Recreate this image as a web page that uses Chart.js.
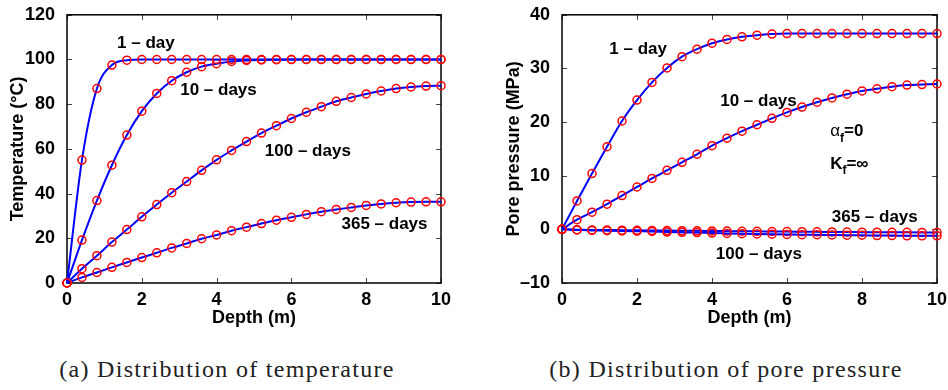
<!DOCTYPE html>
<html>
<head>
<meta charset="utf-8">
<script src="https://cdn.jsdelivr.net/npm/chart.js@4.4.1/dist/chart.umd.min.js"></script>
<style>
  body { margin: 0; background: #fff; width: 948px; height: 390px; position: relative; overflow: hidden; }
  .panel { position: absolute; top: 0; width: 474px; height: 335px; }
  .caption { position: absolute; top: 356px; font-family: "Liberation Serif", serif; font-size: 24px; color: #222;
             letter-spacing: 1.3px; white-space: nowrap; transform: translateX(-50%); }
</style>
</head>
<body>
<div class="panel" style="left:0"><canvas id="tempChart" width="474" height="335"></canvas></div>
<div class="panel" style="left:474px"><canvas id="presChart" width="474" height="335"></canvas></div>
<div class="caption" style="left:227px">(a) Distribution of temperature</div>
<div class="caption" style="left:726px">(b) Distribution of pore pressure</div>
<script>
// depth of the sample points (m)
const depth = [0, 0.4, 0.8, 1.2, 1.6, 2, 2.4, 2.8, 3.2, 3.6, 4, 4.4, 4.8, 5.2, 5.6, 6, 6.4, 6.8, 7.2, 7.6, 8, 8.4, 8.8, 9.2, 9.6, 10];

// temperature (°C)
const temp1day    = [0, 55, 87, 97.5, 99.7, 100, 100, 100, 100, 100, 100, 100, 100, 100, 100, 100, 100, 100, 100, 100, 100, 100, 100, 100, 100, 100];
const temp10days  = [0, 19.2, 36.9, 52.7, 66.2, 76.9, 84.8, 90.5, 94.3, 96.8, 98.1, 99.1, 99.6, 99.8, 99.9, 100, 100, 100, 100, 100, 100, 100, 100, 100, 100, 100];
const temp100days = [0, 6.4, 12.2, 18.3, 23.9, 29.6, 35.1, 40.4, 45.4, 50.4, 55.1, 59.3, 63.3, 67.1, 70.4, 73.6, 76.4, 78.9, 81.3, 83.0, 84.6, 85.9, 87.0, 87.7, 88.1, 88.3];
const temp365days = [0, 2.5, 4.7, 7.0, 9.2, 11.4, 13.5, 15.7, 17.7, 19.8, 21.5, 23.4, 25.0, 26.6, 28.1, 29.4, 30.7, 31.9, 32.9, 33.8, 34.7, 35.4, 35.9, 36.2, 36.3, 36.3];

// pore pressure (MPa)
const pres1day    = [0, 5.3, 10.4, 15.4, 20.2, 24.1, 27.4, 30.1, 32.2, 33.6, 34.7, 35.4, 35.9, 36.2, 36.4, 36.5, 36.5, 36.5, 36.5, 36.5, 36.5, 36.5, 36.5, 36.5, 36.5, 36.5];
const pres10days  = [0, 1.8, 3.2, 4.7, 6.3, 7.9, 9.5, 11.0, 12.5, 14.0, 15.6, 17.0, 18.3, 19.5, 20.7, 21.8, 22.8, 23.7, 24.5, 25.2, 25.8, 26.2, 26.6, 26.9, 27.0, 27.1];
const pres100days = [0, -0.1, -0.2, -0.25, -0.3, -0.35, -0.4, -0.5, -0.55, -0.6, -0.7, -0.75, -0.8, -0.85, -0.9, -0.95, -1.0, -1.0, -1.05, -1.1, -1.1, -1.15, -1.15, -1.2, -1.2, -1.2];
const pres365days = [0, -0.05, -0.1, -0.12, -0.15, -0.18, -0.2, -0.22, -0.25, -0.28, -0.3, -0.32, -0.35, -0.37, -0.4, -0.42, -0.44, -0.46, -0.48, -0.5, -0.52, -0.53, -0.55, -0.56, -0.57, -0.58];

// curve labels, anchored in data units
const tempNotes = [
  { text: "1 – day",    x: 2.11, y: 107.2 },
  { text: "10 – days",  x: 4.05, y: 86.2 },
  { text: "100 – days", x: 6.44, y: 58.7 },
  { text: "365 – days", x: 8.49, y: 26.3 }
];
const presNotes = [
  { text: "1 – day",    x: 2.03, y: 33.6 },
  { text: "10 – days",  x: 5.24, y: 23.9 },
  { text: "365 – days", x: 8.34, y: 2.2 },
  { text: "100 – days", x: 5.25, y: -4.67 },
  { text: "α", sub: "f", tail: "=0", x: 7.15, y: 18.3 },
  { text: "K", sub: "f", tail: "=∞", x: 7.15, y: 12.2 }
];

Chart.defaults.color = "#000";
Chart.defaults.font.family = "'Liberation Sans', Arial, sans-serif";

const boldFont = { size: 18, weight: "bold" };

// matlab style box, inward ticks and text labels
const framePlugin = {
  id: "frame",
  beforeDatasetsDraw(chart) {
    const { ctx, chartArea: a, scales: { x, y } } = chart;
    ctx.save();
    ctx.strokeStyle = "#444";
    ctx.lineWidth = 1;
    ctx.beginPath();
    x.ticks.forEach(t => {
      const px = Math.round(x.getPixelForValue(t.value)) + 0.5;
      ctx.moveTo(px, a.bottom); ctx.lineTo(px, a.bottom - 5);
      ctx.moveTo(px, a.top); ctx.lineTo(px, a.top + 5);
    });
    y.ticks.forEach(t => {
      const py = Math.round(y.getPixelForValue(t.value)) + 0.5;
      ctx.moveTo(a.left, py); ctx.lineTo(a.left + 5, py);
      ctx.moveTo(a.right, py); ctx.lineTo(a.right - 5, py);
    });
    ctx.stroke();
    ctx.strokeStyle = "#000";
    ctx.lineWidth = 1.5;
    ctx.strokeRect(a.left, a.top, a.right - a.left, a.bottom - a.top);
    ctx.restore();
  },
  afterDatasetsDraw(chart, args, opts) {
    const { ctx, scales: { x, y } } = chart;
    ctx.save();
    ctx.fillStyle = "#000";
    ctx.textBaseline = "middle";
    (opts.notes || []).forEach(n => {
      const px = x.getPixelForValue(n.x);
      const py = y.getPixelForValue(n.y);
      if (!n.sub) {
        ctx.font = "bold 17px 'Liberation Sans', Arial, sans-serif";
        ctx.textAlign = "center";
        ctx.fillText(n.text, px, py);
        return;
      }
      ctx.textAlign = "left";
      let cx = px;
      ctx.font = (n.text === "α" ? "" : "bold ") + "17px 'Liberation Sans', Arial, sans-serif";
      ctx.fillText(n.text, cx, py);
      cx += ctx.measureText(n.text).width;
      ctx.font = "bold 12px 'Liberation Sans', Arial, sans-serif";
      ctx.fillText(n.sub, cx, py + 7);
      cx += ctx.measureText(n.sub).width;
      ctx.font = "bold 17px 'Liberation Sans', Arial, sans-serif";
      ctx.fillText(n.tail, cx, py);
    });
    ctx.restore();
  }
};

function makeSets(list) {
  return list.map(values => ({
    data: depth.map((d, i) => ({ x: d, y: values[i] })),
    borderColor: "#0000ff",
    borderWidth: 2,
    cubicInterpolationMode: "monotone",
    pointRadius: 4,
    pointBorderWidth: 1.5,
    pointBorderColor: "#ff0000",
    pointBackgroundColor: "rgba(0,0,0,0)",
    clip: false
  }));
}

function makeChart(id, sets, cfg) {
  return new Chart(document.getElementById(id), {
    type: "line",
    data: { datasets: makeSets(sets) },
    options: {
      responsive: false,
      animation: false,
      devicePixelRatio: 1,
      events: [],
      layout: { padding: { left: 0, right: cfg.padRight, top: 11, bottom: 0 } },
      plugins: {
        legend: { display: false },
        tooltip: { enabled: false },
        frame: { notes: cfg.notes }
      },
      scales: {
        x: {
          type: "linear",
          min: 0, max: 10,
          grid: { display: false },
          border: { display: false },
          ticks: { stepSize: 2, font: boldFont, padding: -2, maxRotation: 0 },
          title: { display: true, text: "Depth (m)", font: boldFont, padding: { top: 2, bottom: 6 } },
          afterFit: s => { s.height = 52; }
        },
        y: {
          min: cfg.yMin, max: cfg.yMax,
          grid: { display: false },
          border: { display: false },
          ticks: { stepSize: cfg.yStep, font: boldFont, padding: 4,
                   callback: v => String(v).replace("-", "–") },
          title: { display: true, text: cfg.yTitle, font: boldFont, padding: { top: cfg.titlePad, bottom: 4 } },
          afterFit: s => { s.width = cfg.yWidth; }
        }
      }
    },
    plugins: [framePlugin]
  });
}

makeChart("tempChart", [temp1day, temp10days, temp100days, temp365days], {
  yMin: 0, yMax: 120, yStep: 20, yTitle: "Temperature (°C)",
  yWidth: 67, titlePad: 7, padRight: 33, notes: tempNotes
});

makeChart("presChart", [pres1day, pres10days, pres100days, pres365days], {
  yMin: -10, yMax: 40, yStep: 10, yTitle: "Pore pressure (MPa)",
  yWidth: 88, titlePad: 29, padRight: 11, notes: presNotes
});
</script>
</body>
</html>
